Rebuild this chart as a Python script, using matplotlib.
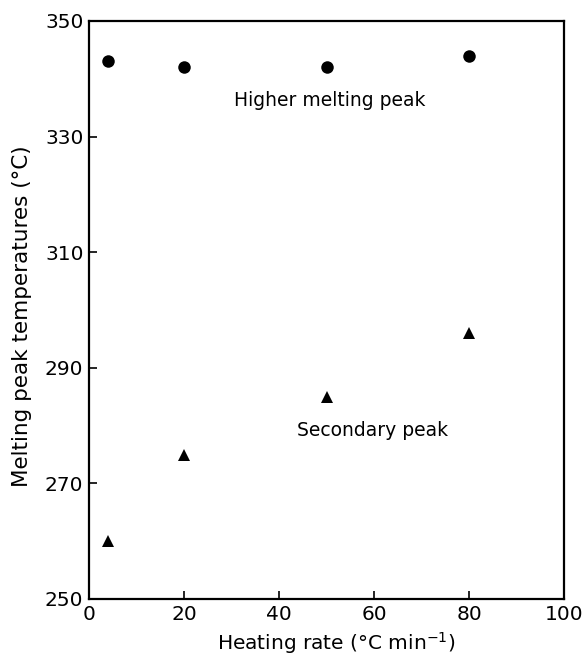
import matplotlib
matplotlib.use("Agg")
import matplotlib.pyplot as plt

heating_rate = [4, 20, 50, 80]
higher_peak = [343, 342, 342, 344]
secondary_peak = [260, 275, 285, 296]
x_ticks = [0, 20, 40, 60, 80, 100]
y_ticks = [250, 270, 290, 310, 330, 350]

plt.rcParams['font.family'] = ['DejaVu Sans']
fig = plt.figure(figsize=(5.84, 6.59), dpi=100)
ax = fig.add_axes([89/584, 1-599/659, 475/584, 578/659])

ax.plot(heating_rate, higher_peak, 'o', color='black', ms=9, mew=0)
ax.plot(heating_rate, secondary_peak, '^', color='black', ms=9, mew=0)

ax.text(50.7, 336.3, 'Higher melting peak', ha='center', va='center', fontsize=13.5)
ax.text(59.8, 279.2, 'Secondary peak', ha='center', va='center', fontsize=13.5)

ax.set_xlim(0, 100)
ax.set_ylim(250, 350)
ax.set_xticks(x_ticks)
ax.set_yticks(y_ticks)
ax.tick_params(direction='in', length=6, width=1.2, labelsize=14.5, pad=4)
for s in ax.spines.values():
    s.set_linewidth(1.6)

ax.set_xlabel('Heating rate (°C min$^{-1}$)', fontsize=14.5)
ax.set_ylabel('Melting peak temperatures (°C)', fontsize=15.5)
ax.xaxis.set_label_coords(0.52, -0.053)
ax.yaxis.set_label_coords(-0.12, 0.49)

fig.savefig('out.png', dpi=100)
